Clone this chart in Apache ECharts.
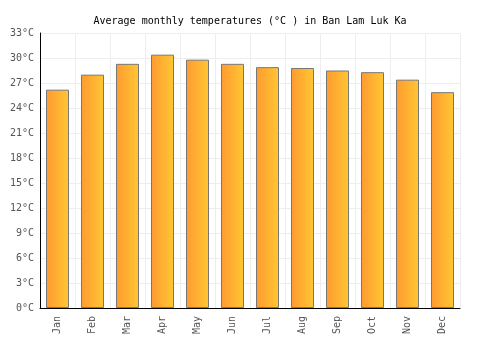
<!DOCTYPE html>
<html><head><meta charset="utf-8">
<script src="https://cdn.jsdelivr.net/npm/echarts@6/dist/echarts.min.js"></script>
<style>html,body{margin:0;padding:0;background:#fff}#c{width:500px;height:350px}</style>
</head><body><div id="c"></div>
<script>
var months = ["Jan","Feb","Mar","Apr","May","Jun","Jul","Aug","Sep","Oct","Nov","Dec"];
var temps = [26.2, 28.0, 29.3, 30.4, 29.8, 29.3, 28.9, 28.8, 28.5, 28.3, 27.4, 25.9];
var chart = echarts.init(document.getElementById('c'));
var font = "'DejaVu Sans Mono', monospace";
chart.setOption({
  animation: false,
  title: {text: "Average monthly temperatures (°C ) in Ban Lam Luk Ka", left: 'center', top: 11,
    textStyle: {fontFamily: font, fontSize: 10, fontWeight: 'normal', color: '#000'}},
  grid: {left: 40, right: 40, top: 33, bottom: 42},
  xAxis: {type: 'category', data: months,
    axisLine: {lineStyle: {color: '#000'}}, axisTick: {show: false},
    axisLabel: {rotate: 90, fontFamily: font, fontSize: 10, color: '#555', margin: 8},
    splitLine: {show: true, lineStyle: {color: '#eee'}}},
  yAxis: {type: 'value', min: 0, max: 33, interval: 3,
    axisLine: {show: true, lineStyle: {color: '#000'}}, axisTick: {show: false},
    axisLabel: {formatter: '{value}°C', fontFamily: font, fontSize: 10, color: '#555', margin: 6},
    splitLine: {lineStyle: {color: '#eee'}}},
  series: [{type: 'bar', data: temps, barWidth: 23,
    itemStyle: {borderColor: '#777', borderWidth: 1,
      color: new echarts.graphic.LinearGradient(0,0,1,0,[{offset:0,color:'#ff9a30'},{offset:1,color:'#ffc733'}])}}]
});
</script></body></html>
